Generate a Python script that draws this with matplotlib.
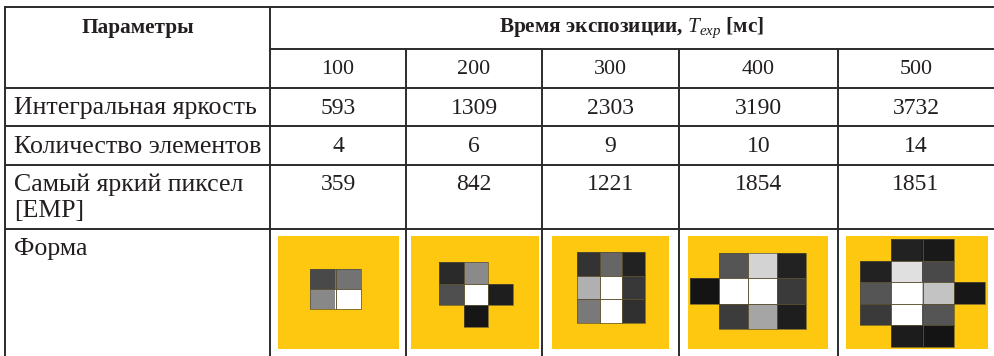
import numpy as np
import matplotlib.pyplot as plt

# --- Data ---
exposures = ['100', '200', '300', '400', '500']
row_labels = ['Интегральная яркость', 'Количество элементов', 'Самый яркий пиксел\n[EMP]', 'Форма']
integral_brightness = [593, 1309, 2303, 3190, 3732]
element_count = [4, 6, 9, 10, 14]
brightest_pixel = [359, 842, 1221, 1854, 1851]

# shape grids, grey level 0..255, -1 = no element
shape_100 = [[74, 115],
             [136, 255]]
shape_200 = [[42, 138, -1],
             [79, 255, 30],
             [-1, 22, -1]]
shape_300 = [[51, 102, 34],
             [176, 255, 56],
             [122, 255, 48]]
shape_400 = [[-1, 85, 212, 34],
             [20, 255, 255, 58],
             [-1, 60, 165, 30]]
shape_500 = [[-1, 34, 25, -1],
             [34, 224, 74, -1],
             [85, 255, 196, 23],
             [58, 255, 85, -1],
             [-1, 28, 20, -1]]
shapes = [shape_100, shape_200, shape_300, shape_400, shape_500]

# --- Layout (pixel coordinates) ---
W, H = 994, 356
fig = plt.figure(figsize=(W / 100, H / 100), dpi=100)
ax = fig.add_axes([0, 0, 1, 1])
ax.set_xlim(0, W)
ax.set_ylim(H, 0)
ax.axis('off')

plt.rcParams['mathtext.fontset'] = 'custom'
plt.rcParams['mathtext.rm'] = 'Liberation Serif'
plt.rcParams['mathtext.it'] = 'Liberation Serif:italic'

font = 'Liberation Serif'
fs_head = 15.3
fs_sub = 15.8
fs_label = 18.6
fs_num = 17
txt = '#231f20'
line_color = '#2b2b2b'
lw = 1.4
yellow = '#fdc80f'

x_left, x_first = 5, 270
col_edges = [270, 406, 542, 679, 838, 994]
y_top, y_sub = 7, 49
row_edges = [88, 126, 165, 229, 356]

# horizontal lines
ax.plot([x_left, W], [y_top, y_top], color=line_color, lw=lw)
ax.plot([x_first, W], [y_sub, y_sub], color=line_color, lw=lw)
for y in row_edges[:-1]:
    ax.plot([x_left, W], [y, y], color=line_color, lw=lw)
# vertical lines
ax.plot([x_left, x_left], [y_top, H], color=line_color, lw=lw)
ax.plot([x_first, x_first], [y_top, H], color=line_color, lw=lw)
for x in col_edges[1:-1]:
    ax.plot([x, x], [y_sub, H], color=line_color, lw=lw)

# header
ax.text(138, 28, 'Параметры', ha='center', va='center', fontsize=fs_head,
        fontweight='bold', family=font, color=txt)
ax.text(632, 28, 'Время экспозиции, $T_{exp}$ [мс]', ha='center', va='center',
        fontsize=fs_head, fontweight='bold', family=font, color=txt)

centers = [(col_edges[i] + col_edges[i + 1]) / 2 for i in range(5)]
for cx, e in zip(centers, exposures):
    ax.text(cx, 69, e, ha='center', va='center', fontsize=fs_sub, family=font, color=txt)

# row labels
label_y = [108, 147, 185, 249]
for lab, y in zip(row_labels, label_y):
    for k, part in enumerate(lab.split('\n')):
        ax.text(14, y + k * 26, part, ha='left', va='center', fontsize=fs_label,
                family=font, color=txt)

for cx, a, b, c in zip(centers, integral_brightness, element_count, brightest_pixel):
    ax.text(cx, 108, str(a), ha='center', va='center', fontsize=fs_num, family=font, color=txt)
    ax.text(cx, 147, str(b), ha='center', va='center', fontsize=fs_num, family=font, color=txt)
    ax.text(cx, 185, str(c), ha='center', va='center', fontsize=fs_num, family=font, color=txt)

# shape panels: (panel x0, x1), (grid x0, x1, y0, y1)
panel_x = [(278, 399), (411, 539), (552, 669), (688, 828), (846, 988)]
grid_box = [(310, 361, 269, 309), (439, 513, 262, 327), (577, 645, 252, 323),
            (690, 806, 253, 329), (860, 985, 239, 347)]
py0, py1 = 236, 349

cmap = plt.get_cmap('gray').copy()
cmap.set_bad((0, 0, 0, 0))
for (px0, px1), (gx0, gx1, gy0, gy1), shp in zip(panel_x, grid_box, shapes):
    ax.add_patch(plt.Rectangle((px0, py0), px1 - px0, py1 - py0, color=yellow, lw=0))
    arr = np.ma.masked_less(np.array(shp, dtype=float), 0)
    ax.imshow(arr, cmap=cmap, vmin=0, vmax=255, extent=(gx0, gx1, gy1, gy0),
              interpolation='nearest', aspect='auto', zorder=3)
    # thin cell borders
    nr, nc = arr.shape
    cw, ch = (gx1 - gx0) / nc, (gy1 - gy0) / nr
    for r in range(nr):
        for c in range(nc):
            if not np.ma.is_masked(arr[r, c]):
                ax.add_patch(plt.Rectangle((gx0 + c * cw, gy0 + r * ch), cw, ch,
                                           fill=False, ec='#5a5030', lw=0.5, zorder=4))

ax.set_xlim(0, W)
ax.set_ylim(H, 0)
fig.savefig('out.png', dpi=100)
